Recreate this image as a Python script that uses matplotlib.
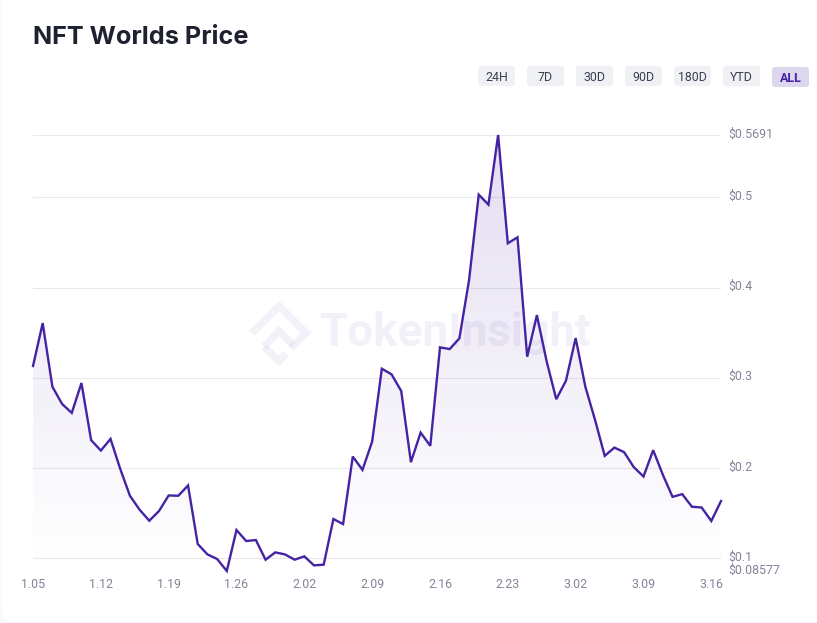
import numpy as np
import matplotlib
matplotlib.use('Agg')
import matplotlib.pyplot as plt
from matplotlib.patches import FancyBboxPatch, PathPatch
from matplotlib.path import Path
from matplotlib.transforms import ScaledTranslation

# daily prices, 1.05 to 3.17
prices = [0.313, 0.3606, 0.2901, 0.271, 0.261, 0.2942, 0.2308, 0.2193, 0.2322, 0.199,
          0.1692, 0.1537, 0.1415, 0.1522, 0.1695, 0.1692, 0.1806, 0.1157, 0.1042, 0.0991,
          0.0858, 0.1312, 0.119, 0.1201, 0.0983, 0.1064, 0.1042, 0.0983, 0.102, 0.092,
          0.0928, 0.1434, 0.1378, 0.2126, 0.1979, 0.2292, 0.31, 0.3038, 0.2853, 0.2064,
          0.2392, 0.2245, 0.3337, 0.3318, 0.3436, 0.4082, 0.503, 0.4919, 0.5691, 0.4491,
          0.4557, 0.3233, 0.3694, 0.3185, 0.2762, 0.2967, 0.344, 0.2901, 0.2533, 0.2134,
          0.2226, 0.2175, 0.2009, 0.1905, 0.2197, 0.1924, 0.168, 0.171, 0.157, 0.1562,
          0.1412, 0.1633]
date_ticks = [0, 7, 14, 21, 28, 35, 42, 49, 56, 63, 70]
date_labels = ['1.05', '1.12', '1.19', '1.26', '2.02', '2.09', '2.16', '2.23', '3.02', '3.09', '3.16']
price_ticks = [0.08577, 0.1, 0.2, 0.3, 0.4, 0.5, 0.5691]
price_labels = ['$0.08577', '$0.1', '$0.2', '$0.3', '$0.4', '$0.5', '$0.5691']
ranges = ['24H', '7D', '30D', '90D', '180D', 'YTD', 'ALL']

W, H = 817, 623
PURPLE = '#4523a3'
GREY = '#83839a'

plt.rcParams['font.family'] = ['Roboto', 'DejaVu Sans']
fig = plt.figure(figsize=(W / 100, H / 100), dpi=100, facecolor='#f8f8fc')

# background layer in pixel coordinates: card, title, buttons
deco = fig.add_axes([0, 0, 1, 1], zorder=0)
deco.set_xlim(0, W)
deco.set_ylim(H, 0)
deco.axis('off')
deco.add_patch(FancyBboxPatch((1.5, -20), W + 20, 642, boxstyle='round,pad=0,rounding_size=12',
                              fc='white', ec='none'))
deco.text(33, 37.5, 'NFT Worlds Price', family=['Inter', 'DejaVu Sans'], fontsize=18.2,
          fontweight='bold', color='#1e2130', va='center', ha='left')

for i, label in enumerate(ranges):
    x0 = 478 + i * 49
    active = label == 'ALL'
    y0 = 67 if active else 66
    deco.add_patch(FancyBboxPatch((x0 + 2, y0 + 2), 33, 16, boxstyle='round,pad=2,rounding_size=3',
                                  fc='#dcd6ee' if active else '#f0f1f4', ec='none'))
    deco.text(x0 + 18.5, y0 + 11.5, label, fontsize=8.9, ha='center', va='center',
              color=PURPLE if active else '#3c3f50', fontweight='bold' if active else 'normal')

# chart
ax = fig.add_axes([33 / W, 1 - 571 / H, 688 / W, 436 / H], zorder=1)
ax.patch.set_alpha(0)
x = np.arange(len(prices))
ymin, ymax = price_ticks[0], price_ticks[-1]
ax.set_xlim(0, x[-1])
ax.set_ylim(ymin, ymax)

# gradient under the line
grad = np.zeros((256, 2, 4))
grad[..., 0] = 0x45 / 255
grad[..., 1] = 0x23 / 255
grad[..., 2] = 0xa3 / 255
grad[..., 3] = np.linspace(0.15, 0.0, 256)[:, None]
img = ax.imshow(grad, extent=[0, x[-1], ymin, ymax], origin='upper', aspect='auto', zorder=1)
verts = [(0, ymin)] + list(zip(x, prices)) + [(x[-1], ymin)]
img.set_clip_path(PathPatch(Path(verts), transform=ax.transData))

ax.set_yticks(price_ticks)
ax.set_yticklabels(price_labels)
ax.yaxis.tick_right()
ax.set_xticks(date_ticks)
ax.set_xticklabels(date_labels)
ax.tick_params(axis='y', length=0, pad=5.5, labelsize=8.9, labelcolor=GREY)
ax.tick_params(axis='x', length=0, pad=5, labelsize=8.9, labelcolor=GREY)
# price labels sit a little above their gridlines
nudge = ScaledTranslation(0, 0.8 / 72, fig.dpi_scale_trans)
for lab in ax.get_yticklabels():
    lab.set_verticalalignment('center')
    lab.set_transform(lab.get_transform() + nudge)
ax.grid(axis='y', color='#e9e9ee', lw=0.8, zorder=0)
ax.set_axisbelow(True)
for s in ax.spines.values():
    s.set_visible(False)

# watermark sits over the fill but under the line
ax.text(319, 333, 'TokenInsight', transform=deco.transData, fontsize=33, fontweight='bold',
        family=['Roboto', 'DejaVu Sans'], color='#4523a3', alpha=0.065, va='center', ha='left', zorder=2)
logo_outer = [(252, 333), (279, 306), (306, 333), (291, 348)]
logo_inner = [(264, 347), (279, 331), (293, 345)]
logo_base = [(264, 347), (279, 361), (286, 354)]
for pts in (logo_outer, logo_inner, logo_base):
    xs, ys = zip(*pts)
    ax.plot(xs, ys, transform=deco.transData, color='#4523a3', alpha=0.06, lw=5.5,
            solid_joinstyle='miter', solid_capstyle='butt', zorder=2, clip_on=False)

ax.plot(x, prices, color=PURPLE, lw=1.7, solid_joinstyle='miter', clip_on=False, zorder=3)

fig.savefig('out.png', dpi=100, facecolor=fig.get_facecolor())
